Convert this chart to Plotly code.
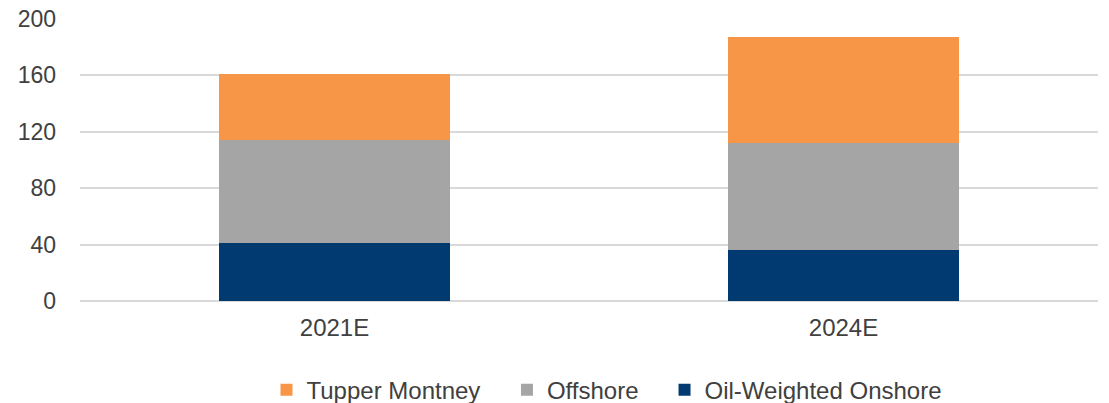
import plotly.graph_objects as go

categories = ["2021E", "2024E"]
oil_weighted_onshore = [41, 36]
offshore = [73, 76]
tupper_montney = [47, 75]
y_ticks = [0, 40, 80, 120, 160, 200]

font_family = "Liberation Sans, Arial, sans-serif"
text_color = "#404040"

fig = go.Figure()
fig.add_trace(go.Bar(x=categories, y=oil_weighted_onshore, name="Oil-Weighted Onshore",
                     marker=dict(color="#003A70", line=dict(width=0)), legend="legend3"))
fig.add_trace(go.Bar(x=categories, y=offshore, name="Offshore",
                     marker=dict(color="#A5A5A5", line=dict(width=0)), legend="legend2"))
fig.add_trace(go.Bar(x=categories, y=tupper_montney, name="Tupper Montney",
                     marker=dict(color="#F79646", line=dict(width=0)), legend="legend"))

def leg(xpos):
    return dict(orientation="h", x=xpos, xanchor="left", y=-0.316, yanchor="middle",
                font=dict(size=24, color=text_color), itemwidth=30,
                bgcolor="rgba(0,0,0,0)")

fig.update_layout(
    width=1109, height=403,
    barmode="stack", bargap=0.546,
    margin=dict(l=80, r=11, t=19, b=102, autoexpand=False),
    paper_bgcolor="white", plot_bgcolor="white",
    font=dict(family=font_family, size=24, color=text_color),
    showlegend=True,
    legend=leg(0.1832),
    legend2=leg(0.4194),
    legend3=leg(0.5742),
    xaxis=dict(showgrid=False, showline=False, ticks="", ticklabelstandoff=10,
               tickfont=dict(size=24, color=text_color)),
    yaxis=dict(range=[0, 200], tickvals=y_ticks, showgrid=True, gridcolor="#D9D9D9",
               gridwidth=1.5, zeroline=True, zerolinecolor="#D9D9D9", zerolinewidth=1.5,
               showline=False, ticks="", ticklabelstandoff=23, ticklabeloverflow="allow",
               tickfont=dict(size=23, color=text_color)),
)

fig.write_html("out.html", config={"displayModeBar": False},
               post_script="document.body.style.margin='0';")
